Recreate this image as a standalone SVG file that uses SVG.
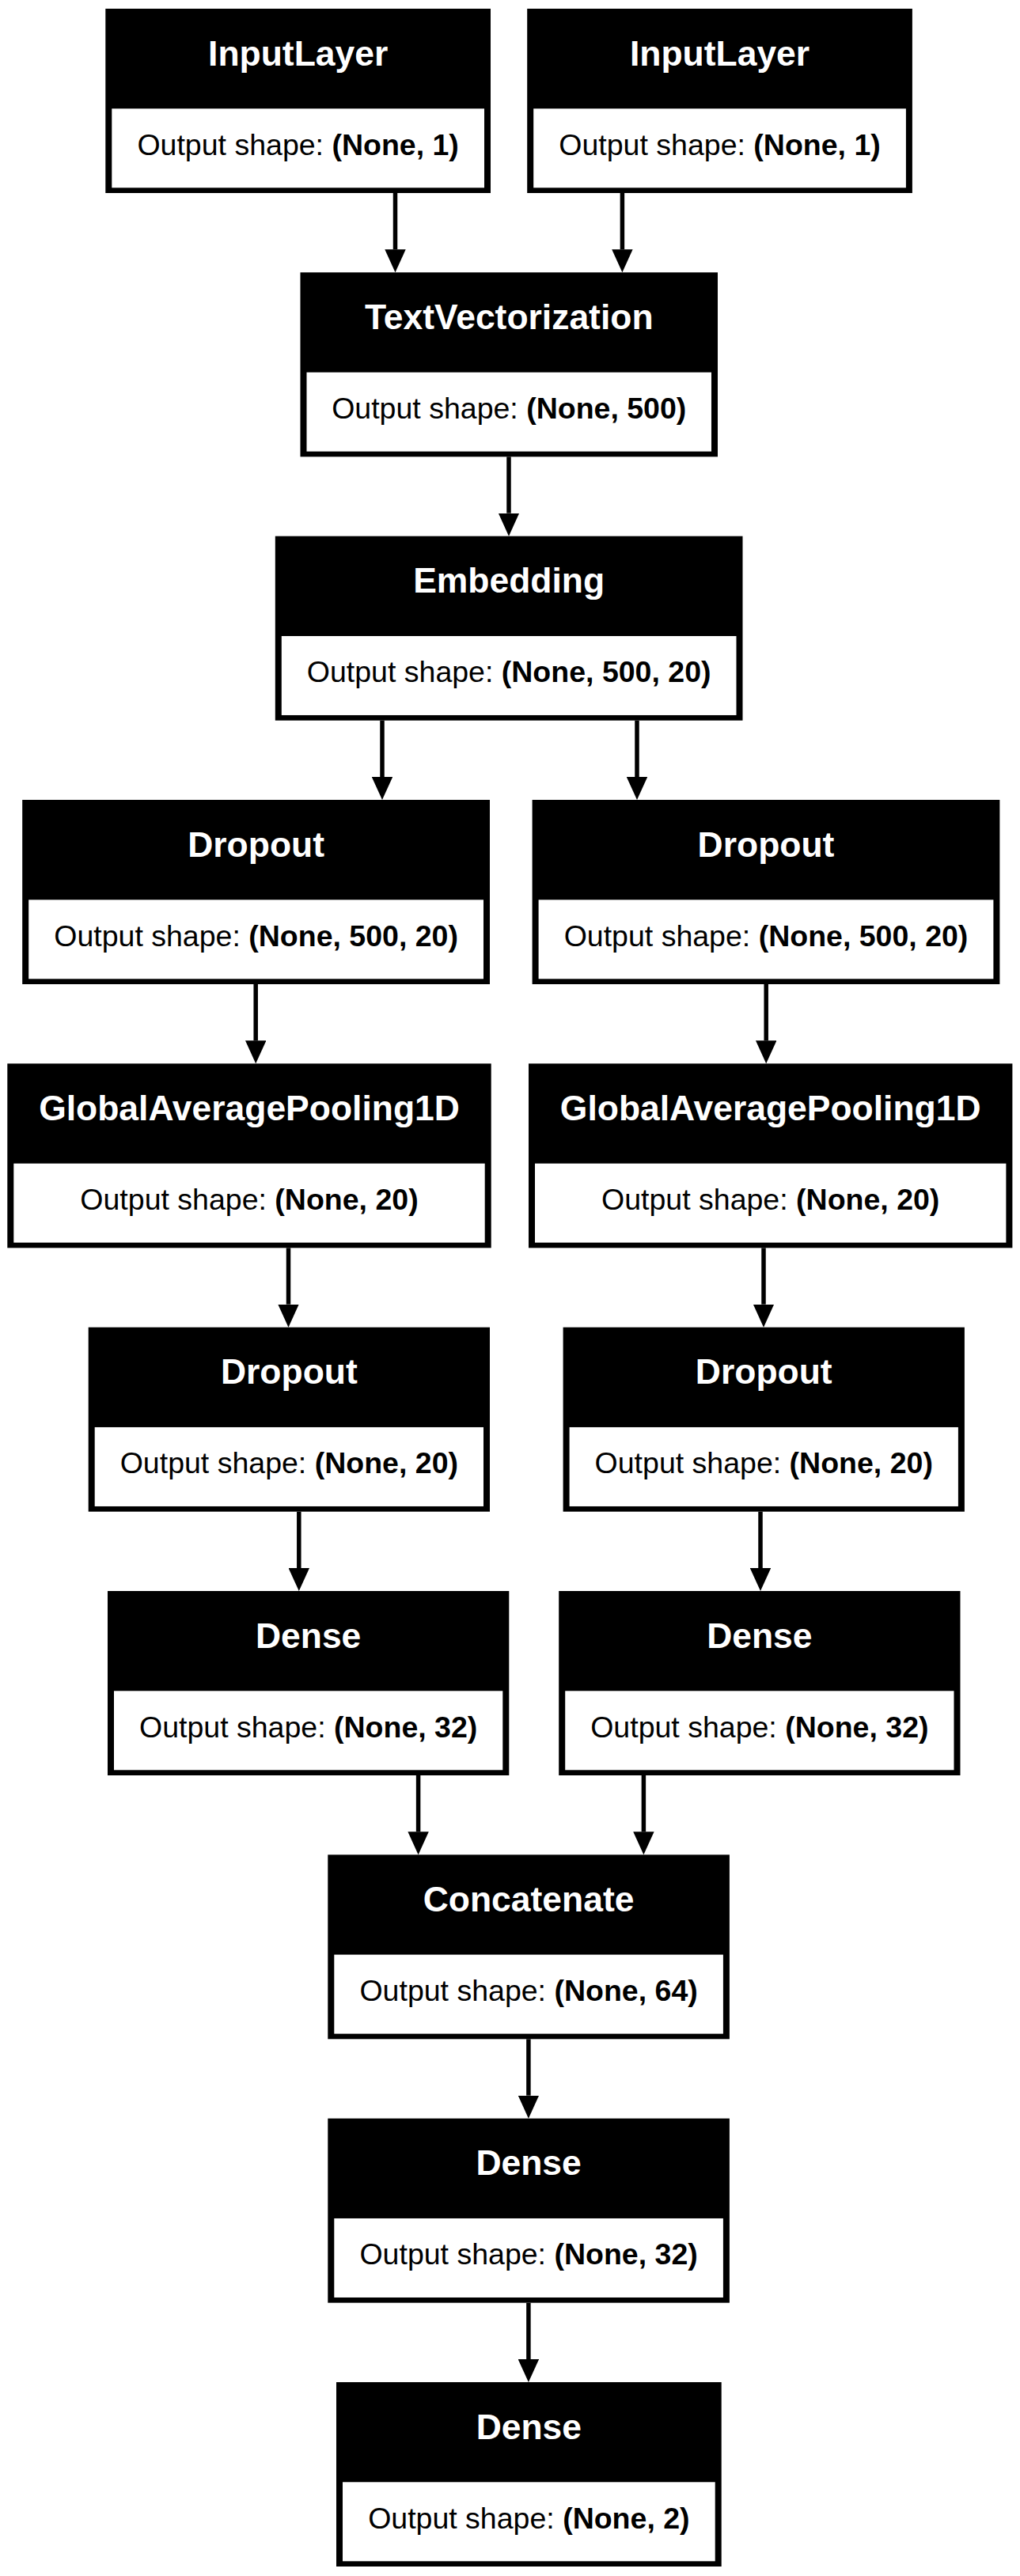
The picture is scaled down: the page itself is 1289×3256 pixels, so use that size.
<svg xmlns="http://www.w3.org/2000/svg" width="1289" height="3256" viewBox="0 0 1289 3256">
<style>
.bg{fill:#fff}
.outer{fill:#000}
.inner{fill:#fff}
.hdr{font-family:"Liberation Sans",Arial,sans-serif;font-weight:bold;font-size:44.44px;fill:#fff;text-anchor:middle}
.body{font-family:"Liberation Sans",Arial,sans-serif;font-size:37.5px;fill:#000;text-anchor:middle}
.b{font-weight:bold}
.edge{stroke:#000;stroke-width:5.5;fill:none}
</style>
<defs>
<marker id="ah" viewBox="0 0 29 26.4" refX="0" refY="13.2" markerWidth="29" markerHeight="26.4" markerUnits="userSpaceOnUse" orient="auto">
<path d="M0,0 L29,13.2 L0,26.4 z" fill="#000"/>
</marker>
</defs>
<rect class="bg" x="0" y="0" width="1289" height="3256"/>
<g id="connectors">
<line class="edge" marker-end="url(#ah)" x1="499.5" y1="244" x2="499.5" y2="315.33"/>
<line class="edge" marker-end="url(#ah)" x1="786.4" y1="244" x2="786.4" y2="315.33"/>
<line class="edge" marker-end="url(#ah)" x1="643" y1="577.33" x2="643" y2="648.67"/>
<line class="edge" marker-end="url(#ah)" x1="483" y1="910.67" x2="483" y2="982"/>
<line class="edge" marker-end="url(#ah)" x1="805" y1="910.67" x2="805" y2="982"/>
<line class="edge" marker-end="url(#ah)" x1="323.2" y1="1244" x2="323.2" y2="1315.33"/>
<line class="edge" marker-end="url(#ah)" x1="968.2" y1="1244" x2="968.2" y2="1315.33"/>
<line class="edge" marker-end="url(#ah)" x1="364.5" y1="1577.33" x2="364.5" y2="1648.67"/>
<line class="edge" marker-end="url(#ah)" x1="965" y1="1577.33" x2="965" y2="1648.67"/>
<line class="edge" marker-end="url(#ah)" x1="377.8" y1="1910.67" x2="377.8" y2="1982"/>
<line class="edge" marker-end="url(#ah)" x1="961" y1="1910.67" x2="961" y2="1982"/>
<line class="edge" marker-end="url(#ah)" x1="528.6" y1="2244" x2="528.6" y2="2315.33"/>
<line class="edge" marker-end="url(#ah)" x1="813.4" y1="2244" x2="813.4" y2="2315.33"/>
<line class="edge" marker-end="url(#ah)" x1="667.9" y1="2577.33" x2="667.9" y2="2648.67"/>
<line class="edge" marker-end="url(#ah)" x1="667.9" y1="2910.67" x2="667.9" y2="2982"/>
</g>
<g id="input_layer_1" transform="translate(133.3,11)">
<rect class="outer" width="486.7" height="233"/><rect class="inner" x="8" y="126.3" width="470.7" height="100"/>
<text class="hdr" x="243.35" y="71.5">InputLayer</text>
<text class="body" x="243.35" y="184.5">Output shape: <tspan class="b">(None, 1)</tspan></text>
</g>
<g id="input_layer_2" transform="translate(666.2,11)">
<rect class="outer" width="486.7" height="233"/><rect class="inner" x="8" y="126.3" width="470.7" height="100"/>
<text class="hdr" x="243.35" y="71.5">InputLayer</text>
<text class="body" x="243.35" y="184.5">Output shape: <tspan class="b">(None, 1)</tspan></text>
</g>
<g id="text_vectorization" transform="translate(379.5,344.33)">
<rect class="outer" width="527.5" height="233"/><rect class="inner" x="8" y="126.3" width="511.5" height="100"/>
<text class="hdr" x="263.75" y="71.5">TextVectorization</text>
<text class="body" x="263.75" y="184.5">Output shape: <tspan class="b">(None, 500)</tspan></text>
</g>
<g id="embedding" transform="translate(347.8,677.67)">
<rect class="outer" width="590.7" height="233"/><rect class="inner" x="8" y="126.3" width="574.7" height="100"/>
<text class="hdr" x="295.35" y="71.5">Embedding</text>
<text class="body" x="295.35" y="184.5">Output shape: <tspan class="b">(None, 500, 20)</tspan></text>
</g>
<g id="dropout_l1" transform="translate(28.2,1011)">
<rect class="outer" width="590.8" height="233"/><rect class="inner" x="8" y="126.3" width="574.8" height="100"/>
<text class="hdr" x="295.4" y="71.5">Dropout</text>
<text class="body" x="295.4" y="184.5">Output shape: <tspan class="b">(None, 500, 20)</tspan></text>
</g>
<g id="dropout_r1" transform="translate(672.6,1011)">
<rect class="outer" width="590.8" height="233"/><rect class="inner" x="8" y="126.3" width="574.8" height="100"/>
<text class="hdr" x="295.4" y="71.5">Dropout</text>
<text class="body" x="295.4" y="184.5">Output shape: <tspan class="b">(None, 500, 20)</tspan></text>
</g>
<g id="gap_l" transform="translate(9.3,1344.33)">
<rect class="outer" width="611.4" height="233"/><rect class="inner" x="8" y="126.3" width="595.4" height="100"/>
<text class="hdr" x="305.7" y="71.5">GlobalAveragePooling1D</text>
<text class="body" x="305.7" y="184.5">Output shape: <tspan class="b">(None, 20)</tspan></text>
</g>
<g id="gap_r" transform="translate(668,1344.33)">
<rect class="outer" width="611.4" height="233"/><rect class="inner" x="8" y="126.3" width="595.4" height="100"/>
<text class="hdr" x="305.7" y="71.5">GlobalAveragePooling1D</text>
<text class="body" x="305.7" y="184.5">Output shape: <tspan class="b">(None, 20)</tspan></text>
</g>
<g id="dropout_l2" transform="translate(111.7,1677.67)">
<rect class="outer" width="507.3" height="233"/><rect class="inner" x="8" y="126.3" width="491.3" height="100"/>
<text class="hdr" x="253.65" y="71.5">Dropout</text>
<text class="body" x="253.65" y="184.5">Output shape: <tspan class="b">(None, 20)</tspan></text>
</g>
<g id="dropout_r2" transform="translate(711.6,1677.67)">
<rect class="outer" width="507.3" height="233"/><rect class="inner" x="8" y="126.3" width="491.3" height="100"/>
<text class="hdr" x="253.65" y="71.5">Dropout</text>
<text class="body" x="253.65" y="184.5">Output shape: <tspan class="b">(None, 20)</tspan></text>
</g>
<g id="dense_l" transform="translate(136,2011)">
<rect class="outer" width="507.3" height="233"/><rect class="inner" x="8" y="126.3" width="491.3" height="100"/>
<text class="hdr" x="253.65" y="71.5">Dense</text>
<text class="body" x="253.65" y="184.5">Output shape: <tspan class="b">(None, 32)</tspan></text>
</g>
<g id="dense_r" transform="translate(706.2,2011)">
<rect class="outer" width="507.3" height="233"/><rect class="inner" x="8" y="126.3" width="491.3" height="100"/>
<text class="hdr" x="253.65" y="71.5">Dense</text>
<text class="body" x="253.65" y="184.5">Output shape: <tspan class="b">(None, 32)</tspan></text>
</g>
<g id="concatenate" transform="translate(414.3,2344.33)">
<rect class="outer" width="507.6" height="233"/><rect class="inner" x="8" y="126.3" width="491.6" height="100"/>
<text class="hdr" x="253.8" y="71.5">Concatenate</text>
<text class="body" x="253.8" y="184.5">Output shape: <tspan class="b">(None, 64)</tspan></text>
</g>
<g id="dense_1" transform="translate(414.3,2677.67)">
<rect class="outer" width="507.6" height="233"/><rect class="inner" x="8" y="126.3" width="491.6" height="100"/>
<text class="hdr" x="253.8" y="71.5">Dense</text>
<text class="body" x="253.8" y="184.5">Output shape: <tspan class="b">(None, 32)</tspan></text>
</g>
<g id="dense_2" transform="translate(425,3011)">
<rect class="outer" width="486.7" height="233"/><rect class="inner" x="8" y="126.3" width="470.7" height="100"/>
<text class="hdr" x="243.35" y="71.5">Dense</text>
<text class="body" x="243.35" y="184.5">Output shape: <tspan class="b">(None, 2)</tspan></text>
</g>
</svg>
